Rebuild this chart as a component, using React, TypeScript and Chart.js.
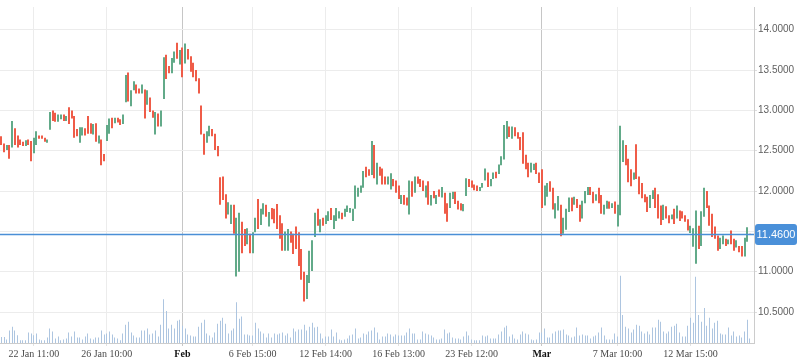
import React, { useEffect, useRef } from 'react';
import { Chart, registerables } from 'chart.js';

Chart.register(...registerables);

const openPrices = [
  12.68, 12.59, 12.51, 12.57, 12.54, 12.78, 12.69, 12.64, 12.61, 12.56,
  12.64, 12.62, 12.47, 12.57, 12.69, 12.69, 12.66, 12.60, 12.76, 13.00,
  12.97, 12.86, 12.89, 12.95, 12.87, 13.04, 13.00, 12.93, 12.77, 12.60,
  12.69, 12.78, 12.93, 12.84, 12.70, 12.84, 12.59, 12.64, 12.46, 12.62,
  12.71, 12.91, 12.84, 12.91, 12.89, 12.83, 13.10, 13.47, 13.05, 13.25,
  13.32, 13.27, 13.21, 13.26, 13.07, 13.16, 13.00, 12.70, 12.96, 12.80,
  13.14, 13.69, 13.55, 13.46, 13.59, 13.84, 13.57, 13.78, 13.58, 13.76,
  13.67, 13.59, 13.50, 13.40, 13.06, 12.71, 12.60, 12.68, 12.77, 12.71,
  12.56, 12.17, 12.18, 11.96, 11.71, 11.59, 11.83, 10.94, 11.00, 11.62,
  11.53, 11.34, 11.47, 11.23, 11.49, 11.90, 11.58, 11.71, 11.83, 11.56,
  11.79, 11.78, 11.84, 11.70, 11.60, 11.26, 11.26, 11.50, 11.47, 11.56,
  11.49, 11.28, 11.00, 10.66, 10.86, 11.01, 11.43, 11.78, 11.49, 11.67,
  11.59, 11.63, 11.79, 11.53, 11.63, 11.66, 11.73, 11.68, 11.74, 11.73,
  11.63, 11.78, 11.93, 11.98, 12.04, 12.30, 12.27, 12.20, 12.57, 12.08,
  12.30, 12.28, 12.18, 12.08, 12.02, 12.15, 12.13, 12.07, 11.84, 11.95,
  11.92, 11.71, 12.12, 11.98, 12.18, 12.15, 12.13, 11.92, 12.12, 11.82,
  12.00, 11.84, 12.02, 11.92, 11.98, 11.85, 11.79, 11.90, 11.99, 11.88,
  11.85, 11.75, 11.94, 12.15, 12.13, 12.08, 12.07, 12.00, 12.04, 12.13,
  12.23, 12.06, 12.15, 12.24, 12.21, 12.32, 12.39, 12.65, 12.80, 12.65,
  12.79, 12.73, 12.67, 12.73, 12.45, 12.35, 12.23, 12.26, 12.35, 12.23,
  12.27, 11.82, 11.93, 12.12, 12.04, 11.66, 11.76, 11.83, 11.47, 11.52,
  11.74, 11.92, 11.83, 11.90, 11.83, 11.66, 11.85, 11.95, 12.05, 11.99,
  11.88, 12.04, 11.95, 11.71, 11.78, 11.87, 11.79, 11.87, 11.56, 11.70,
  12.36, 12.57, 12.40, 12.27, 12.14, 12.58, 12.18, 12.10, 11.96, 11.93,
  11.79, 11.90, 12.04, 11.96, 11.82, 11.64, 11.81, 11.70, 11.65, 11.78,
  11.66, 11.76, 11.75, 11.70, 11.65, 11.48, 11.31, 11.10, 11.57, 11.32,
  11.68, 12.00, 11.82, 11.72, 11.56, 11.45, 11.28, 11.34, 11.41, 11.34,
  11.51, 11.41, 11.30, 11.32, 11.32, 11.19, 11.37, 11.47,
];

const closePrices = [
  12.57, 12.48, 12.57, 12.40, 12.87, 12.57, 12.54, 12.57, 12.56, 12.63,
  12.57, 12.37, 12.66, 12.74, 12.65, 12.65, 12.61, 12.64, 12.98, 12.87,
  12.86, 12.95, 12.95, 12.87, 12.93, 12.83, 12.90, 12.66, 12.68, 12.79,
  12.79, 12.69, 12.71, 12.71, 12.83, 12.61, 12.69, 12.32, 12.37, 12.82,
  12.90, 12.78, 12.91, 12.85, 12.82, 12.95, 13.44, 13.11, 13.25, 13.36,
  13.21, 13.21, 13.32, 12.90, 13.25, 12.98, 12.91, 12.98, 12.80, 13.00,
  13.66, 13.39, 13.46, 13.65, 13.73, 13.64, 13.75, 13.41, 13.83, 13.63,
  13.48, 13.41, 13.36, 13.21, 12.70, 12.45, 12.74, 12.81, 12.68, 12.51,
  12.43, 11.83, 11.89, 11.66, 11.86, 11.83, 11.47, 11.67, 11.73, 11.23,
  11.32, 11.54, 11.23, 11.49, 11.67, 11.53, 11.78, 11.85, 11.68, 11.74,
  11.65, 11.60, 11.53, 11.41, 11.26, 11.50, 11.53, 11.36, 11.22, 11.28,
  11.07, 10.90, 10.63, 10.96, 11.26, 11.39, 11.73, 11.57, 11.65, 11.57,
  11.70, 11.75, 11.64, 11.70, 11.79, 11.75, 11.65, 11.78, 11.82, 11.79,
  11.78, 12.07, 12.04, 12.07, 12.25, 12.17, 12.19, 12.62, 12.16, 12.35,
  12.19, 12.08, 12.08, 12.18, 12.22, 12.06, 11.98, 11.90, 11.95, 11.83,
  11.82, 12.13, 11.93, 12.18, 12.09, 12.05, 12.00, 12.07, 11.83, 11.95,
  11.91, 11.95, 11.93, 12.05, 11.72, 11.62, 11.98, 11.99, 11.84, 11.77,
  11.76, 11.84, 12.16, 12.05, 12.04, 12.01, 12.00, 12.05, 12.10, 12.28,
  12.05, 12.15, 12.23, 12.16, 12.33, 12.43, 12.82, 12.87, 12.67, 12.80,
  12.68, 12.65, 12.51, 12.34, 12.27, 12.17, 12.35, 12.34, 12.21, 12.10,
  11.79, 12.07, 12.10, 11.99, 11.77, 11.85, 11.94, 11.44, 11.67, 11.78,
  11.92, 11.75, 11.93, 11.79, 11.62, 11.88, 12.00, 12.05, 11.95, 11.85,
  11.96, 11.85, 11.72, 11.83, 11.88, 11.78, 11.85, 11.72, 11.83, 12.81,
  12.63, 12.32, 12.11, 12.06, 12.23, 12.15, 11.96, 11.91, 11.86, 11.74,
  11.95, 12.01, 11.79, 11.66, 11.58, 11.83, 11.66, 11.60, 11.71, 11.59,
  11.82, 11.63, 11.66, 11.62, 11.51, 11.57, 11.54, 11.76, 11.28, 11.75,
  12.04, 11.79, 11.57, 11.43, 11.41, 11.26, 11.42, 11.45, 11.32, 11.40,
  11.34, 11.26, 11.39, 11.24, 11.19, 11.42, 11.55, 11.46,
];

const volumes = [
  6, 6, 3.7, 12.7, 16.7, 12.7, 8, 2.7, 2.7, 2.7,
  10.7, 9.7, 8, 9.7, 3.7, 2.7, 2.7, 5.7, 14.7, 11.7,
  4.7, 6.7, 2.7, 3.7, 4.7, 10.7, 6.7, 11.7, 5.7, 5.7,
  3.7, 6.7, 9.7, 4.7, 3.7, 5.7, 5.7, 12.7, 8.7, 9.7,
  11.7, 8.7, 5.7, 4.7, 2.7, 9.7, 18.7,
  21.7, 10.7, 7.7, 5.7, 5.7, 12.7, 12.7, 14.7, 8.7, 9.7,
  12.7, 6.7, 18.7, 44.7, 32.7, 14.7, 18.7, 14.7, 22.7, 23.7,
  17.7, 14.7, 8.7, 7.7, 6.7, 6.7, 16.7, 20.7, 23.7, 9.7,
  7.7, 5.7, 10.7, 19.7, 22.7, 25.7, 19.7, 9.7, 12.7, 14.7,
  41.7, 24.7, 27, 8.7, 8.7, 7.7, 7.7,
  20.7, 14.7, 11.7, 9.7, 5.7, 9.7, 5.7, 9.7, 8.7, 9.7,
  10.7, 7.7, 9.7, 5.7, 14.7, 11.7, 13.7, 13.7, 18.7, 12.7,
  16.7, 20.7, 15.7, 16.7, 9.7, 4.7, 6.7, 6.7, 13.7, 6.7,
  10.7, 3.7, 2.7, 3.7, 4.7, 7.7, 8.7, 14.7, 4.7, 5.7,
  9.7, 8.7, 11.7, 12.7, 15.7, 10.7,
  3.7, 6.7, 6.7, 9.7, 8.7, 6.7, 8.7, 7.7, 7.7, 7.7,
  10.7, 14.7, 9.7, 9.7, 3.7, 3.7, 11.7, 9.7, 8.7, 7.7,
  5.7, 3.7, 3.7, 4.7, 13.7, 9.7, 10.7, 5.7, 4.7, 4.7,
  3.7, 6.7, 11.7, 7.7, 3.7, 2.7, 2.7, 2.7, 7.7, 6.7,
  7.7, 4.7, 4.7, 4.7, 8.7, 11.7, 15.7,
  17.7, 6.7, 8.7, 4.7, 3.7, 8.7, 11.7, 9.7, 8.7, 3.7,
  2.7, 3.7, 10.7, 10.7, 14.7, 5.7, 5.7, 9.7, 11.7, 12.7,
  12.7, 13.7, 8.7, 7.7, 5.7, 6.7, 15.7, 7.7, 8.7, 7.7,
  7.7, 4.7, 6.7, 7.7, 10.7, 15.7, 7.7, 3.7, 3.7, 3.7,
  9.7, 6.7, 68.7, 28.7, 16.7, 14.7, 10.7,
  13.7, 18.7, 17.7, 11.7, 9.7, 11.7, 8.7, 15.7, 15.7, 23.7,
  21.7, 11.7, 9.7, 11.7, 16.7, 17.7, 19.7, 10.7, 6.7, 6.7,
  17.7, 25.7, 20.7, 67.7, 28.7, 21.7, 35.7, 17.7, 25.7, 14.7,
  20.7, 22.7, 9.7, 8.7, 8.7, 15.7, 7.7, 11.7, 6.7, 7.7,
  5.7, 11.7, 23.7, 4.7,
];

const tickIndices = [12, 39, 67, 93, 120, 147, 174, 200, 228, 255];
const tickLabels = [
  '22 Jan 11:00', '26 Jan 10:00', 'Feb', '6 Feb 15:00', '12 Feb 14:00',
  '16 Feb 13:00', '23 Feb 12:00', 'Mar', '7 Mar 10:00', '12 Mar 15:00',
];
const monthLabels = ['Feb', 'Mar'];
const priceTicks = [10.5, 11.0, 11.5, 12.0, 12.5, 13.0, 13.5, 14.0];
const lastPrice = 11.46;

const UP = '#62aa89';
const DOWN = '#ef5c48';

// Snap bar centres to whole pixels and fix widths so the thin candles and volume bars stay crisp.
const pixelSnapPlugin = {
  id: 'pixelSnap',
  beforeDatasetsDraw(chart: any) {
    chart.getSortedVisibleDatasetMetas().forEach((meta: any) => {
      const isCandle = meta.index === 0;
      meta.data.forEach((el: any) => {
        if (isCandle) {
          el.x = Math.round(el.x);
          el.width = 2;
        } else {
          el.x = Math.floor(el.x) + 0.5;
          el.width = 1;
        }
      });
    });
  },
};

const priceLinePlugin = {
  id: 'priceLine',
  afterDatasetsDraw(chart: any) {
    const { ctx, chartArea, scales } = chart;
    const y = scales.y.getPixelForValue(lastPrice);
    ctx.save();
    ctx.strokeStyle = '#4a8fd6';
    ctx.lineWidth = 1.5;
    ctx.beginPath();
    ctx.moveTo(chartArea.left, y);
    ctx.lineTo(chartArea.right, y);
    ctx.stroke();
    ctx.restore();
  },
  afterDraw(chart: any) {
    const { ctx, chartArea, scales } = chart;
    const y = scales.y.getPixelForValue(lastPrice);
    const bx = chartArea.right + 1;
    const bw = chart.width - bx - 1;
    const bh = 21;
    ctx.save();
    ctx.fillStyle = '#4a90d9';
    ctx.beginPath();
    if (ctx.roundRect) ctx.roundRect(bx, y - bh / 2, bw, bh, 3);
    else ctx.rect(bx, y - bh / 2, bw, bh);
    ctx.fill();
    ctx.fillStyle = '#ffffff';
    ctx.font = '11px "Liberation Sans", Arial, sans-serif';
    ctx.textAlign = 'center';
    ctx.textBaseline = 'middle';
    ctx.fillText(lastPrice.toFixed(4), bx + bw / 2, y + 0.5);
    ctx.restore();
  },
};

function labelFor(value: number) {
  const k = tickIndices.indexOf(value);
  return k >= 0 ? tickLabels[k] : '';
}

export default function App() {
  const canvasRef = useRef<HTMLCanvasElement | null>(null);

  useEffect(() => {
    const canvas = canvasRef.current;
    if (!canvas) return;
    const labels = Array.from({ length: openPrices.length + 1 }, (_, i) => String(i));
    const candleData = openPrices.map((o, i) => [o, closePrices[i]]);
    const candleColors = openPrices.map((o, i) => (closePrices[i] >= o ? UP : DOWN));

    const chart = new Chart(canvas, {
      type: 'bar',
      data: {
        labels,
        datasets: [
          {
            label: 'Price',
            data: candleData as any,
            backgroundColor: candleColors,
            borderWidth: 0,
            maxBarThickness: 2,
            grouped: false,
            yAxisID: 'y',
          } as any,
          {
            label: 'Volume',
            data: volumes,
            backgroundColor: '#adc5e0',
            borderWidth: 0,
            maxBarThickness: 1,
            grouped: false,
            yAxisID: 'vol',
          } as any,
        ],
      },
      options: {
        responsive: false,
        animation: false,
        devicePixelRatio: 1,
        layout: { padding: 0 },
        plugins: {
          legend: { display: false },
          tooltip: { enabled: false },
        },
        scales: {
          x: {
            type: 'category',
            offset: true,
            afterBuildTicks: (scale: any) => {
              scale.ticks = tickIndices.map((v) => ({ value: v }));
            },
            afterFit: (scale: any) => {
              scale.height = 20;
            },
            grid: {
              offset: false,
              drawOnChartArea: true,
              tickLength: 3,
              color: (ctx: any) =>
                ctx.tick && monthLabels.includes(ctx.tick.label) ? '#c6c6c6' : '#ececec',
              tickColor: (ctx: any) =>
                ctx.tick && monthLabels.includes(ctx.tick.label) ? '#c6c6c6' : '#e2e2e2',
            },
            border: { display: true, color: '#cccccc' },
            ticks: {
              autoSkip: false,
              maxRotation: 0,
              padding: 2,
              callback: (value: any) => labelFor(Number(value)),
              color: (ctx: any) =>
                ctx.tick && monthLabels.includes(ctx.tick.label) ? '#111111' : '#4a4a4a',
              font: (ctx: any) => ({
                family: '"Liberation Serif", "Times New Roman", serif',
                size: 10,
                weight: ctx.tick && monthLabels.includes(ctx.tick.label) ? 'bold' : 'normal',
              }),
            },
          } as any,
          y: {
            type: 'linear',
            position: 'right',
            min: 10.116,
            max: 14.282,
            afterBuildTicks: (scale: any) => {
              scale.ticks = priceTicks.map((v) => ({ value: v }));
            },
            afterFit: (scale: any) => {
              scale.width = 44;
            },
            grid: {
              color: '#ececec',
              tickLength: 3,
              tickColor: '#dddddd',
            },
            border: { display: true, color: '#cccccc' },
            ticks: {
              padding: 1,
              color: '#606060',
              font: { family: '"Liberation Sans", Arial, sans-serif', size: 10 },
              callback: (v: any) => Number(v).toFixed(4),
            },
          } as any,
          vol: {
            type: 'linear',
            display: false,
            min: 0,
            max: 343,
          },
        },
      },
      plugins: [pixelSnapPlugin, priceLinePlugin],
    });

    return () => chart.destroy();
  }, []);

  return (
    <div style={{ position: 'absolute', left: 0, top: 0, width: 798, height: 363, background: '#ffffff' }}>
      <canvas ref={canvasRef} width={798} height={363} style={{ display: 'block', width: 798, height: 363 }} />
    </div>
  );
}
